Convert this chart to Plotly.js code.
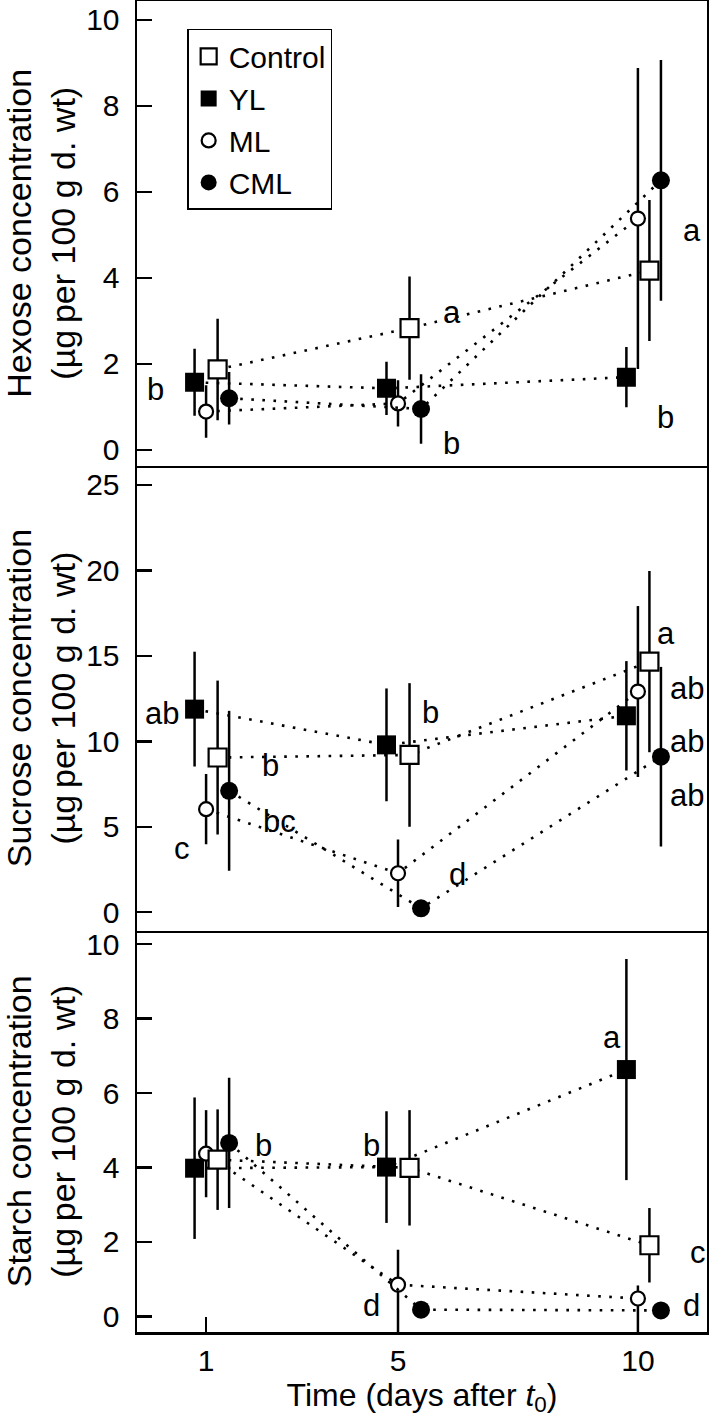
<!DOCTYPE html>
<html>
<head>
<meta charset="utf-8">
<script src="https://cdn.plot.ly/plotly-3.0.1.min.js"></script>
<style>
  html, body { margin: 0; padding: 0; background: #fff; }
  #chart { width: 709px; height: 1422px; }
</style>
</head>
<body>
<div id="chart"></div>
<script>
// sampling days and the dodge used for each treatment
var days = [1, 5, 10];
var treatments = ['Control', 'YL', 'ML', 'CML'];

// hexose (ug per 100 g d. wt)
var hexControl = [1.87, 2.83, 4.17];
var hexControlErr = [1.18, 1.2, 1.64];
var hexYL = [1.57, 1.43, 1.69];
var hexYLErr = [0.78, 0.62, 0.7];
var hexML = [0.89, 1.08, 5.38];
var hexMLErr = [0.61, 0.54, 3.5];
var hexCML = [1.2, 0.95, 6.27];
var hexCMLErr = [0.61, 0.81, 2.8];

// sucrose
var sucControl = [9.05, 9.2, 14.66];
var sucControlErr = [4.5, 4.2, 5.3];
var sucYL = [11.88, 9.79, 11.49];
var sucYLErr = [3.36, 3.3, 3.2];
var sucML = [6.03, 2.28, 12.91];
var sucMLErr = [2.05, 1.97, 5.0];
var sucCML = [7.1, 0.23, 9.1];
var sucCMLErr = [4.68, 0.2, 5.25];

// starch
var staControl = [4.21, 3.99, 1.91];
var staControlErr = [1.35, 1.55, 1.0];
var staYL = [3.98, 4.01, 6.63];
var staYLErr = [1.9, 1.5, 2.97];
var staML = [4.37, 0.85, 0.48];
var staMLErrUp = [1.17, 0.94, 0.35];
var staMLErrDown = [1.17, 1.4, 1.0];
var staCML = [4.66, 0.18, 0.16];
var staCMLErr = [1.75, 0.12, 0.1];

// significance letters per panel
var hexLetters = ['b', 'a', 'b', 'a', 'b'];
var sucLetters = ['ab', 'b', 'bc', 'c', 'b', 'd', 'a', 'ab', 'ab', 'ab'];
var staLetters = ['b', 'b', 'a', 'c', 'd', 'd'];

var FONT = 'Liberation Sans, Arial, Helvetica, sans-serif';

var style = {
  Control: {off: 0.24, marker: {symbol: 'square', size: 18, color: '#fff', line: {color: '#000', width: 2.2}}},
  YL: {off: -0.24, marker: {symbol: 'square', size: 19, color: '#000', line: {color: '#000', width: 0}}},
  ML: {off: 0, marker: {symbol: 'circle', size: 14, color: '#fff', line: {color: '#000', width: 2.2}}},
  CML: {off: 0.48, marker: {symbol: 'circle', size: 18, color: '#000', line: {color: '#000', width: 0}}}
};

function trace(name, k, vals, up, down) {
  var s = style[name];
  var err = {type: 'data', array: up, color: '#000', thickness: 2.5, width: 0};
  if (down) { err.symmetric = false; err.arrayminus = down; }
  return {
    type: 'scatter', mode: 'lines+markers', name: name, showlegend: false,
    x: days.map(function (d) { return d + s.off; }), y: vals,
    xaxis: 'x' + (k === 1 ? '' : k), yaxis: 'y' + (k === 1 ? '' : k),
    line: {color: '#000', width: 2.6, dash: '2.6px,8.5px'},
    marker: s.marker, error_y: err, cliponaxis: true
  };
}

var data = [
  trace('YL', 1, hexYL, hexYLErr), trace('ML', 1, hexML, hexMLErr),
  trace('Control', 1, hexControl, hexControlErr), trace('CML', 1, hexCML, hexCMLErr),
  trace('YL', 2, sucYL, sucYLErr), trace('ML', 2, sucML, sucMLErr),
  trace('Control', 2, sucControl, sucControlErr), trace('CML', 2, sucCML, sucCMLErr),
  trace('YL', 3, staYL, staYLErr), trace('ML', 3, staML, staMLErrUp, staMLErrDown),
  trace('Control', 3, staControl, staControlErr), trace('CML', 3, staCML, staCMLErr)
];

// legend-only entries (markers without the dotted line)
treatments.forEach(function (name) {
  data.push({
    type: 'scatter', mode: 'markers', name: name, x: [null], y: [null],
    xaxis: 'x', yaxis: 'y', marker: style[name].marker, showlegend: true
  });
});

function letters(k, txt, xs, ys) {
  return txt.map(function (t, i) {
    return {
      text: t, x: xs[i], y: ys[i], showarrow: false,
      xref: 'x' + (k === 1 ? '' : k), yref: 'y' + (k === 1 ? '' : k),
      xanchor: 'center', yanchor: 'middle',
      font: {family: FONT, size: 31, color: '#000'}
    };
  });
}

var annotations = [].concat(
  letters(1, hexLetters, [-0.06, 6.13, 6.11, 11.13, 10.58], [1.4, 3.2, 0.15, 5.1, 0.75]),
  letters(2, sucLetters, [0.09, 2.34, 2.52, 0.5, 5.68, 6.24, 10.59, 11.02, 11.02, 11.02],
                         [11.6, 8.6, 5.3, 3.7, 11.7, 2.2, 16.3, 13.1, 10.0, 6.8]),
  letters(3, staLetters, [2.19, 4.44, 9.47, 11.26, 4.44, 11.12], [4.6, 4.6, 7.5, 1.72, 0.28, 0.28])
);

var xrange = [-0.44, 11.44];
function xax(anchor, top, bottom) {
  var ax = {
    anchor: anchor, range: xrange, showgrid: false, zeroline: false,
    showline: true, mirror: top, linecolor: '#000', linewidth: 2.5,
    ticks: bottom ? 'inside' : '', ticklen: 15, tickwidth: 2.5, tickcolor: '#000',
    tickvals: days, ticktext: days.map(String), showticklabels: bottom,
    tickfont: {family: FONT, size: 30, color: '#000'}
  };
  if (bottom) {
    ax.title = {text: 'Time (days after <i>t</i><sub>0</sub>)', standoff: 8,
                font: {family: FONT, size: 32, color: '#000'}};
  }
  return ax;
}
function yax(anchor, domain, range, dtick, title) {
  return {
    anchor: anchor, domain: domain, range: range, dtick: dtick,
    showgrid: false, zeroline: false, showline: true, mirror: true,
    linecolor: '#000', linewidth: 2.5,
    ticks: 'inside', ticklen: 15, tickwidth: 2.5, tickcolor: '#000',
    ticklabelstandoff: 9,
    tickfont: {family: FONT, size: 30, color: '#000'},
    title: {text: title + '<br>(µg\u2009per 100 g d. wt)', standoff: 12,
            font: {family: FONT, size: 34, color: '#000'}}
  };
}

var layout = {
  width: 709, height: 1422,
  margin: {l: 137, r: 2, t: 1, b: 90},
  paper_bgcolor: '#fff', plot_bgcolor: '#fff',
  font: {family: FONT, color: '#000'},
  xaxis: xax('y', true, false),
  xaxis2: xax('y2', false, false),
  xaxis3: xax('y3', false, true),
  yaxis: yax('x', [0.651, 1], [-0.365, 10.44], 2, 'Hexose concentration'),
  yaxis2: yax('x2', [0.3015, 0.651], [-1.08, 26.13], 5, 'Sucrose concentration'),
  yaxis3: yax('x3', [0, 0.3015], [-0.42, 10.36], 2, 'Starch concentration'),
  legend: {
    x: 0.088, y: 0.979, xanchor: 'left', yanchor: 'top',
    bgcolor: '#fff', bordercolor: '#000', borderwidth: 1.5,
    font: {family: FONT, size: 30, color: '#000'},
    tracegroupgap: 0, itemclick: false
  },
  annotations: annotations,
  showlegend: true
};

Plotly.newPlot('chart', data, layout, {staticPlot: true});
</script>
</body>
</html>
